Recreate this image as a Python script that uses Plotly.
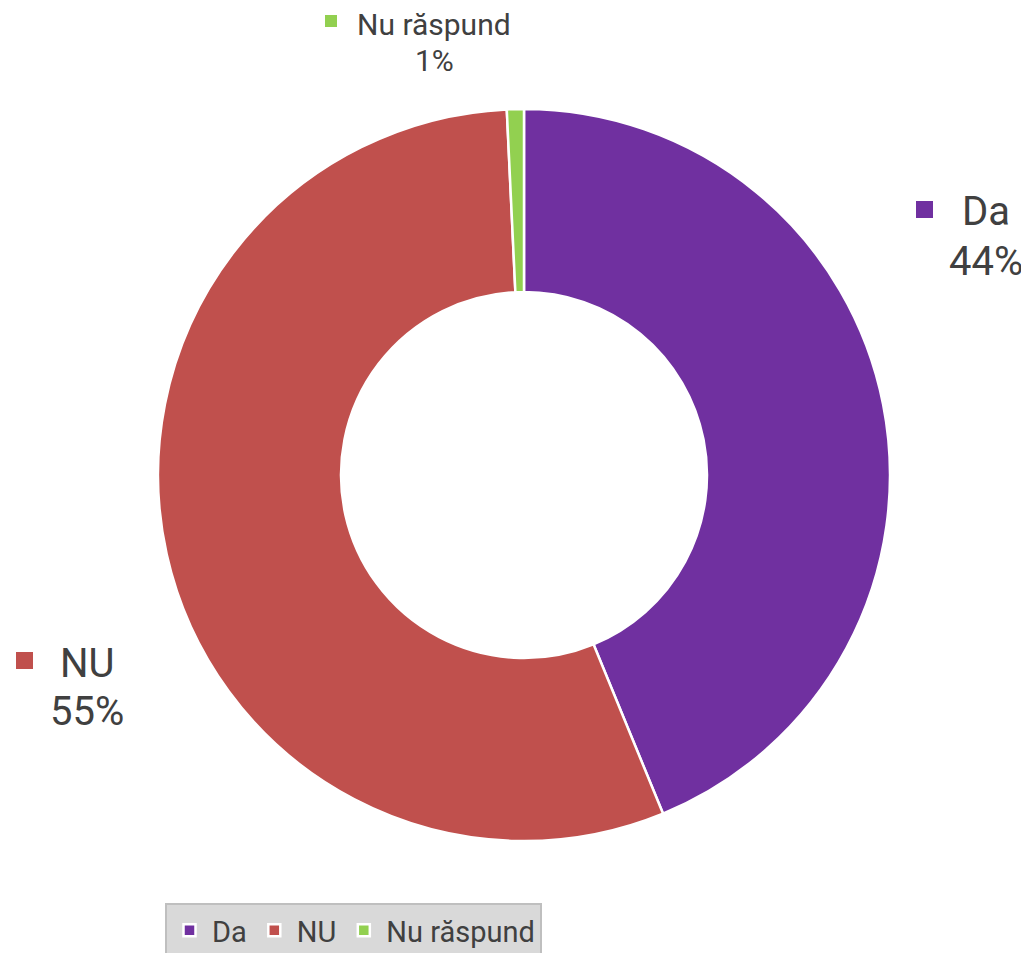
import plotly.graph_objects as go

labels = ['Da', 'NU', 'Nu răspund']
values = [43.8, 55.45, 0.75]
pct_text = ['44%', '55%', '1%']
colors = ['#7030A0', '#C0504D', '#92D050']

W, H = 1029, 953
OFF = 8  # page body margin shifts everything by 8px


def px(x):
    return (x - OFF) / W


def py(y):
    return 1 - (y - OFF) / H


fig = go.Figure(go.Pie(
    labels=labels, values=values, hole=0.5, sort=False,
    direction='clockwise', rotation=0,
    marker=dict(colors=colors, line=dict(color='white', width=2.5)),
    textinfo='none', hoverinfo='label',
    domain=dict(x=[px(524 - 366), px(524 + 366)], y=[py(475 + 366), py(475 - 366)]),
))

# outside data labels: (text center x, line1 y, line2 y, square x0, y0, size, font size)
lab_pos = [
    (986, 212, 262, 916, 201, 17, 40),
    (87, 663, 711, 16, 652, 17, 40),
    (434, 24, 61, 325, 15, 12, 30),
]
annotations = []
shapes = []
for i, (cx, y1, y2, sx, sy, s, fs) in enumerate(lab_pos):
    for txt, yy in ((labels[i], y1), (pct_text[i], y2)):
        annotations.append(dict(
            x=px(cx), y=py(yy), xref='paper', yref='paper',
            text=txt, showarrow=False, xanchor='center', yanchor='middle',
            font=dict(family='Roboto', size=fs, color='#404040')))
    shapes.append(dict(type='rect', xref='paper', yref='paper',
                       x0=px(sx), x1=px(sx + s), y0=py(sy + s), y1=py(sy),
                       fillcolor=colors[i], line=dict(width=0)))

fig.update_layout(
    width=W, height=H,
    margin=dict(l=0, r=0, t=0, b=0),
    paper_bgcolor='white',
    showlegend=True,
    legend=dict(orientation='h', x=px(165), y=py(903), xanchor='left', yanchor='top',
                bgcolor='#D9D9D9', bordercolor='#BFBFBF', borderwidth=2,
                font=dict(family='Roboto', size=29, color='#404040'),
                itemwidth=35, tracegroupgap=0),
    annotations=annotations,
    shapes=shapes,
)

fig.write_html("out.html")
